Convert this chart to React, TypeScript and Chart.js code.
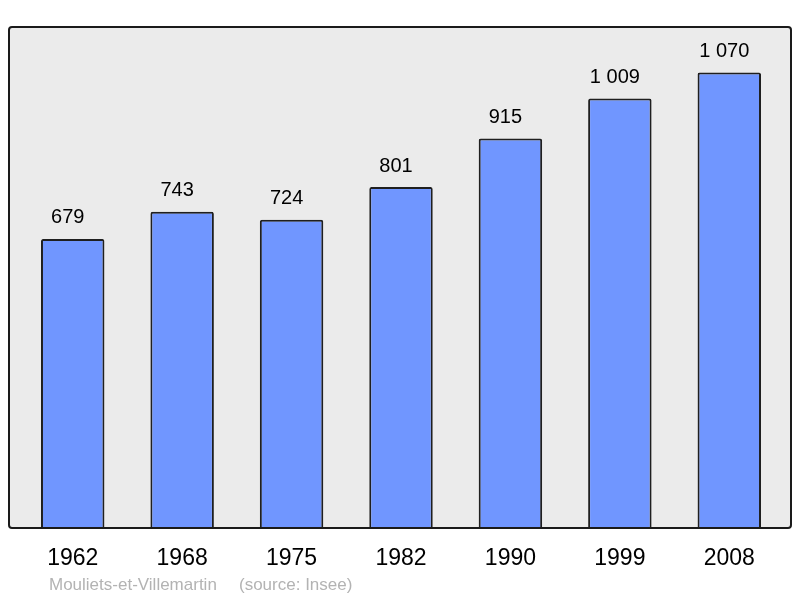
import { useEffect, useRef } from "react"
import { Chart, registerables } from "chart.js"

Chart.register(...registerables)

const years = ["1962", "1968", "1975", "1982", "1990", "1999", "2008"]
const population = [679, 743, 724, 801, 915, 1009, 1070]
const placeName = "Mouliets-et-Villemartin"
const sourceText = "(source: Insee)"

const FONT = "'Liberation Sans', Arial, sans-serif"

const formatValue = (v: number) => String(v).replace(/\B(?=(\d{3})+(?!\d))/g, " ")

// Grey panel with rounded corners behind the bars
const panelPlugin = {
  id: "panel",
  beforeDraw(chart: Chart) {
    const { ctx, chartArea } = chart
    const x = chartArea.left - 9
    const y = chartArea.top
    const w = chartArea.right + 7 - x
    const h = chartArea.bottom - y
    ctx.save()
    ctx.beginPath()
    ctx.roundRect(x, y, w, h, 3)
    ctx.fillStyle = "#ebebeb"
    ctx.fill()
    ctx.restore()
  },
  afterDraw(chart: Chart) {
    const { ctx, chartArea } = chart
    const x = chartArea.left - 9
    const y = chartArea.top
    const w = chartArea.right + 7 - x
    const h = chartArea.bottom - y
    ctx.save()
    ctx.beginPath()
    ctx.roundRect(x, y, w, h, 3)
    ctx.lineWidth = 2
    ctx.strokeStyle = "#1a1a1a"
    ctx.stroke()
    ctx.restore()
  },
}

// Value labels above bars and the caption below the axis
const labelsPlugin = {
  id: "valueLabels",
  afterDatasetsDraw(chart: Chart) {
    const { ctx } = chart
    const meta = chart.getDatasetMeta(0)
    ctx.save()
    ctx.font = `20px ${FONT}`
    ctx.fillStyle = "#000"
    ctx.textAlign = "center"
    ctx.textBaseline = "middle"
    meta.data.forEach((bar: any, i: number) => {
      ctx.fillText(formatValue(population[i]), bar.x - 5, bar.y - 21)
    })
    ctx.font = `17px ${FONT}`
    ctx.fillStyle = "#b3b3b3"
    ctx.textAlign = "left"
    ctx.fillText(placeName, 49, 585)
    ctx.fillText(sourceText, 239, 585)
    ctx.restore()
  },
}

export function PopulationChart() {
  const chartRef = useRef<HTMLCanvasElement>(null)
  const chartInstance = useRef<Chart | null>(null)

  useEffect(() => {
    if (!chartRef.current) return

    if (chartInstance.current) {
      chartInstance.current.destroy()
    }

    const ctx = chartRef.current.getContext("2d")
    if (!ctx) return

    chartInstance.current = new Chart(ctx, {
      type: "bar",
      data: {
        labels: years,
        datasets: [
          {
            data: population,
            backgroundColor: "#7096ff",
            borderColor: "#1f1f1f",
            borderWidth: 2,
            borderSkipped: "bottom",
            borderRadius: 2,
            barPercentage: 0.58,
            categoryPercentage: 1,
          },
        ],
      },
      options: {
        animation: false,
        responsive: true,
        maintainAspectRatio: false,
        layout: {
          padding: { top: 27, left: 18, right: 16, bottom: 0 },
        },
        plugins: {
          legend: { display: false },
          tooltip: { enabled: false },
        },
        scales: {
          x: {
            grid: { display: false },
            border: { display: false },
            ticks: {
              color: "#000",
              font: { family: FONT, size: 23 },
              padding: 9,
            },
            afterFit: (scale: any) => {
              scale.height = 70
            },
          },
          y: {
            display: false,
            min: 0,
            max: 1177,
          },
        },
      },
      plugins: [panelPlugin, labelsPlugin],
    })

    return () => {
      if (chartInstance.current) {
        chartInstance.current.destroy()
      }
    }
  }, [])

  return <canvas ref={chartRef} />
}

export default function App() {
  return (
    <div style={{ position: "fixed", left: 0, top: 0, width: 800, height: 598, background: "#fff" }}>
      <PopulationChart />
    </div>
  )
}
